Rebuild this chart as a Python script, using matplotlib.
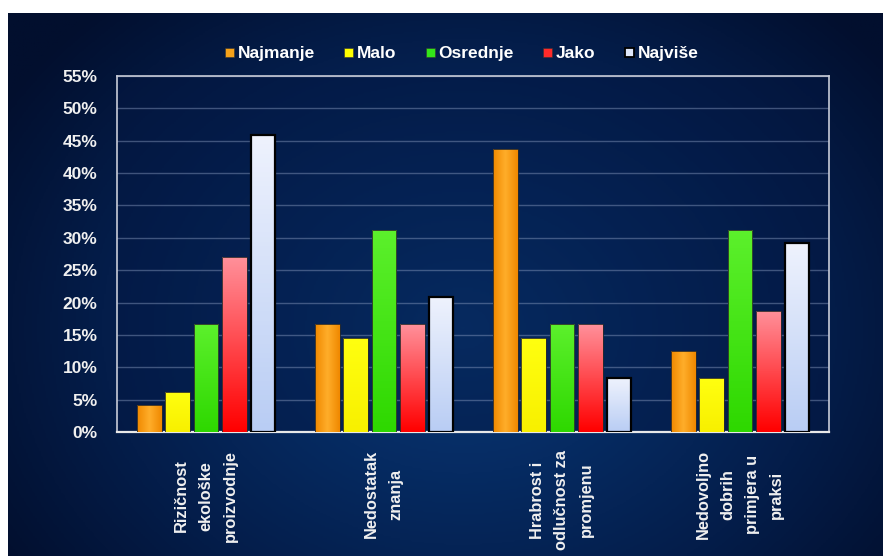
import numpy as np
import matplotlib.pyplot as plt
from matplotlib.colors import LinearSegmentedColormap
from matplotlib.patches import Rectangle

categories = ["Rizičnost\nekološke\nproizvodnje", "Nedostatak\nznanja",
              "Hrabrost i\nodlučnost za\npromjenu", "Nedovoljno\ndobrih\nprimjera u\npraksi"]
series = ["Najmanje", "Malo", "Osrednje", "Jako", "Najviše"]
najmanje = [4.17, 16.67, 43.75, 12.50]
malo = [6.25, 14.58, 14.58, 8.33]
osrednje = [16.67, 31.25, 16.67, 31.25]
jako = [27.08, 16.67, 16.67, 18.75]
najvise = [45.83, 20.83, 8.33, 29.17]
values = [najmanje, malo, osrednje, jako, najvise]
yticks = list(range(0, 56, 5))

# gradient stops per series: (direction, colours top->bottom or left->right)
grads = [
    ("h", ["#f08800", "#ffae2a", "#f08800"]),
    ("v", ["#ffff10", "#f8f000"]),
    ("v", ["#5cf02c", "#2ed800"]),
    ("v", ["#ff909a", "#ff0000"]),
    ("v", ["#eef2fd", "#b9cdf4"]),
]
legend_colors = ["#f6a21a", "#ffff00", "#33e619", "#ff2a2a", "#dde6fa"]

W, H = 883, 556
fig = plt.figure(figsize=(W / 100, H / 100), dpi=100)
fig.patch.set_facecolor("white")

# background panel with radial glow
bg = fig.add_axes([8 / W, 0, 1 - 8 / W, 543 / H])
bg.set_axis_off()
yy, xx = np.mgrid[0:1:300j, 0:1:480j]
r = np.sqrt(((xx - 0.52) / 0.62) ** 2 + ((yy - 0.42) / 0.8) ** 2)
bg_cmap = LinearSegmentedColormap.from_list("bg", ["#0a3a78", "#062b62", "#041d4a", "#020f2e"])
bg.imshow(np.clip(r, 0, 1), cmap=bg_cmap, aspect="auto", extent=[0, 1, 0, 1], origin="lower")
bg.set_xlim(0, 1)
bg.set_ylim(0, 1)

ax = fig.add_axes([117 / W, 1 - 432 / H, 712 / W, 356 / H])
ax.set_facecolor((0.01, 0.09, 0.26, 0.45))

pitch = 0.16
width = 0.14
x = np.arange(len(categories))
for i, (name, vals) in enumerate(zip(series, values)):
    pos = x + (i - 2) * pitch
    bars = ax.bar(pos, vals, width=width, color="none",
                  edgecolor="black" if i == 4 else "#2a2a2a",
                  linewidth=1.6 if i == 4 else 0.6, zorder=4)
    direction, cols = grads[i]
    cmap = LinearSegmentedColormap.from_list(name, cols)
    if direction == "h":
        g = np.linspace(0, 1, 64).reshape(1, -1)
    else:
        g = np.linspace(0, 1, 64).reshape(-1, 1)
    for b in bars:
        x0, w, h = b.get_x(), b.get_width(), b.get_height()
        im = ax.imshow(g, cmap=cmap, aspect="auto", extent=[x0, x0 + w, 0, h],
                       origin="upper", zorder=3)
        im.set_clip_path(b)

ax.set_xlim(-0.5, len(categories) - 0.5)
ax.set_ylim(0, 55)
ax.set_yticks(yticks)
ax.set_yticklabels([f"{t}%" for t in yticks])
ax.set_xticks(x)
ax.set_xticklabels(categories, rotation=90, ha="center", va="top",
                   multialignment="center", linespacing=1.8)
ax.tick_params(axis="both", length=0, colors="white", labelsize=12.5)
ax.tick_params(axis="x", pad=13, labelsize=11.8)
ax.tick_params(axis="y", pad=14)
for lab in ax.get_xticklabels() + ax.get_yticklabels():
    lab.set_fontweight("bold")
    lab.set_family(["Liberation Sans", "DejaVu Sans"])
    lab.set_color("#f0f0f0")

ax.grid(axis="y", color="#8a9cc0", alpha=0.45, linewidth=1.0, zorder=1)
ax.set_axisbelow(True)
for side in ["top", "right", "left"]:
    ax.spines[side].set_color("#c8ccd8")
    ax.spines[side].set_linewidth(1.2)
ax.spines["bottom"].set_color("#e8e8e8")
ax.spines["bottom"].set_linewidth(1.6)

# legend drawn by hand so every label sits on one baseline
renderer = fig.canvas.get_renderer()
lx = 225
for i, name in enumerate(series):
    fig.add_artist(Rectangle((lx / W, 1 - 57 / H), 9 / W, 9 / H, transform=fig.transFigure,
                             facecolor=legend_colors[i],
                             edgecolor="black" if i == 4 else "#333333",
                             linewidth=1.3 if i == 4 else 0.4))
    t = fig.text((lx + 13) / W, 1 - 58 / H, name, color="white", fontsize=12.5,
                 fontweight="bold", family=["Liberation Sans", "DejaVu Sans"],
                 ha="left", va="baseline")
    lx = t.get_window_extent(renderer).x1 + 29

fig.savefig("out.png", dpi=100, facecolor=fig.get_facecolor())
